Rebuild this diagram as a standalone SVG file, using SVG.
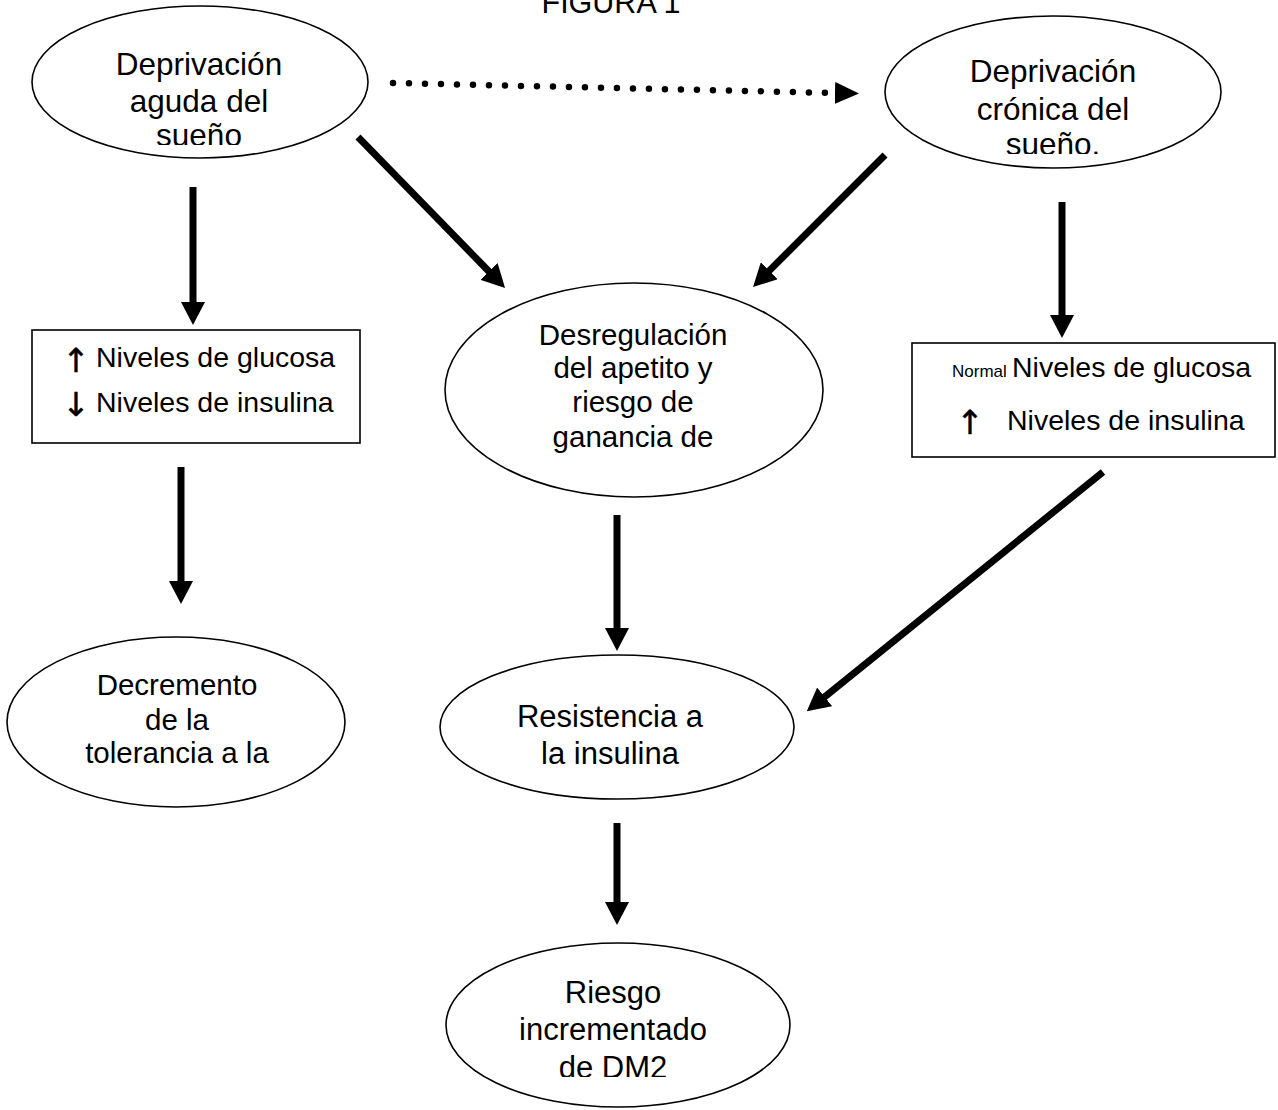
<svg xmlns="http://www.w3.org/2000/svg" width="1278" height="1110" viewBox="0 0 1278 1110">
<style>
.n{fill:#fff;stroke:#000;stroke-width:1.6}
.t{font-family:"Liberation Sans",Arial,sans-serif;fill:#000;text-anchor:middle}
.b{font-family:"Liberation Sans",Arial,sans-serif;fill:#000}
.a{font-family:"DejaVu Sans","Liberation Sans",sans-serif;fill:#000;stroke:#000;stroke-width:0.5;text-anchor:middle}
.c{stroke:#000;stroke-width:7;fill:none}
.d{stroke:#000;stroke-width:6.5;fill:none;stroke-linecap:round;stroke-dasharray:0 16}
</style>
<defs>
<marker id="ah" viewBox="0 0 23 24" refX="1" refY="12" markerWidth="23" markerHeight="24" markerUnits="userSpaceOnUse" orient="auto">
<path d="M0,0 L23,12 L0,24 z" fill="#000"/>
</marker>
<marker id="ahs" viewBox="0 0 24 22" refX="1" refY="11" markerWidth="24" markerHeight="22" markerUnits="userSpaceOnUse" orient="auto">
<path d="M0,0 L24,11 L0,22 z" fill="#000"/>
</marker>
<clipPath id="c1"><rect x="0" y="0" width="400" height="145"/></clipPath>
<clipPath id="c2"><rect x="880" y="0" width="398" height="154"/></clipPath>
<clipPath id="c6"><rect x="440" y="940" width="360" height="137"/></clipPath>
</defs>

<text class="t" x="611" y="13" font-size="30.5">FIGURA 1</text>

<g id="connectors">
<path class="d" d="M393,83 L836,93" marker-end="url(#ahs)"/>
<path class="c" d="M193,187 L193,303" marker-end="url(#ah)"/>
<path class="c" d="M358,137 L489.7,272.2" marker-end="url(#ah)"/>
<path class="c" d="M885,155 L768.6,271.4" marker-end="url(#ah)"/>
<path class="c" d="M1062,202 L1062,316" marker-end="url(#ah)"/>
<path class="c" d="M181,467 L181,582" marker-end="url(#ah)"/>
<path class="c" d="M617,515 L617,629" marker-end="url(#ah)"/>
<path class="c" d="M1103,472 L823.9,697.5" marker-end="url(#ah)"/>
<path class="c" d="M617,823 L617,903" marker-end="url(#ah)"/>
</g>

<g id="n1">
<ellipse class="n" cx="200" cy="82" rx="168" ry="76"/>
<g clip-path="url(#c1)">
<text class="t" x="199" y="75" font-size="31.5">Deprivación</text>
<text class="t" x="199" y="112" font-size="31.5">aguda del</text>
<text class="t" x="199" y="146" font-size="31.5">sueño</text>
</g>
</g>

<g id="n2">
<ellipse class="n" cx="1053" cy="92" rx="168" ry="76"/>
<g clip-path="url(#c2)">
<text class="t" x="1053" y="82" font-size="31.5">Deprivación</text>
<text class="t" x="1053" y="120" font-size="31.5">crónica del</text>
<text class="t" x="1053" y="155" font-size="31.5">sueño.</text>
</g>
</g>

<g id="n3">
<rect class="n" x="32" y="330" width="328" height="113"/>
<text class="a" x="76" y="372" font-size="33">↑</text>
<text class="b" x="96" y="367" font-size="28.5">Niveles de glucosa</text>
<text class="a" x="76" y="416" font-size="33">↓</text>
<text class="b" x="96" y="412" font-size="28.5">Niveles de insulina</text>
</g>

<g id="n4">
<ellipse class="n" cx="634" cy="390" rx="189" ry="107"/>
<text class="t" x="633" y="345" font-size="29.5">Desregulación</text>
<text class="t" x="633" y="378" font-size="29.5">del apetito y</text>
<text class="t" x="633" y="412" font-size="29.5">riesgo de</text>
<text class="t" x="633" y="447" font-size="29.5">ganancia de</text>
</g>

<g id="n5">
<rect class="n" x="912" y="343" width="363" height="114"/>
<text class="b" x="952" y="377" font-size="17">Normal</text>
<text class="b" x="1012" y="377" font-size="28.5">Niveles de glucosa</text>
<text class="a" x="970" y="434" font-size="33">↑</text>
<text class="b" x="1007" y="430" font-size="28.5">Niveles de insulina</text>
</g>

<g id="n6">
<ellipse class="n" cx="176" cy="722" rx="169" ry="85"/>
<text class="t" x="177" y="695" font-size="29.5">Decremento</text>
<text class="t" x="177" y="730" font-size="29.5">de la</text>
<text class="t" x="177" y="763" font-size="29.5">tolerancia a la</text>
</g>

<g id="n7">
<ellipse class="n" cx="617" cy="727" rx="177" ry="72"/>
<text class="t" x="610" y="727" font-size="31">Resistencia a</text>
<text class="t" x="610" y="764" font-size="31">la insulina</text>
</g>

<g id="n8">
<ellipse class="n" cx="618" cy="1025" rx="172" ry="82"/>
<g clip-path="url(#c6)">
<text class="t" x="613" y="1003" font-size="31">Riesgo</text>
<text class="t" x="613" y="1040" font-size="31">incrementado</text>
<text class="t" x="613" y="1078" font-size="31">de DM2</text>
</g>
</g>
</svg>
